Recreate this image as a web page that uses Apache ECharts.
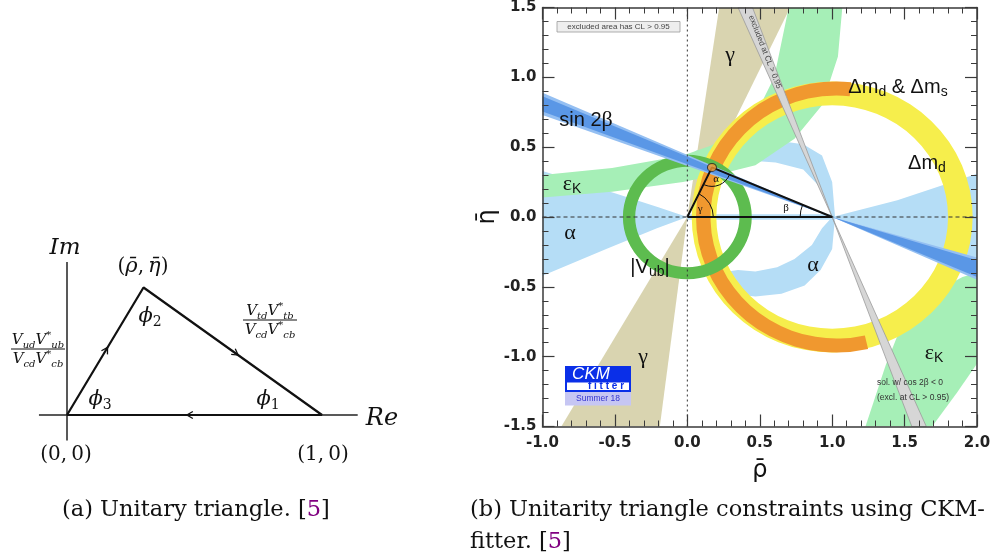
<!DOCTYPE html>
<html><head><meta charset="utf-8">
<script src="https://cdn.jsdelivr.net/npm/echarts@6/dist/echarts.min.js"></script>
<style>html,body{margin:0;padding:0;background:#fff}#c{width:994px;height:560px}</style>
</head><body><div id="c"></div>
<script>
// ---------------- data ----------------
const rhoRange = [-1.0, 2.0];
const etaRange = [-1.5, 1.5];
const tickStep = 0.5;

// (a) sketch of the unitary triangle
const diagVertices = [[0, 0], [0.3, 0.5], [1, 0]];
const reAxisSpan = [[-0.11, 0], [1.14, 0]];
const imAxisSpan = [[0, -0.1], [0, 0.6]];

// (b) CKMfitter constraints in the (rho-bar, eta-bar) plane
const ckmTriangle = [[0, 0], [0.17, 0.355], [1, 0]];
const apexFit = [[0.17, 0.355]];
const alphaLeft = [[-1, 0.33], [-0.5, 0.17], [-0.2, 0.07], [0, 0.0], [-0.21, -0.08], [-0.56, -0.23], [-1, -0.42]];
const alphaStrip = [[0, 0.02], [1, 0.02], [1, -0.02], [0, -0.02]];
const alphaRight = [[1, 0], [1.45, 0.12], [2, 0.31], [2, -0.30], [1.5, -0.15]];
const alphaUpperArc = [[1.02, 0], [1.0, 0.25], [0.93, 0.44], [0.80, 0.52], [0.6, 0.55], [0.4, 0.56], [0.2, 0.53], [0.05, 0.47], [0.15, 0.41], [0.35, 0.41], [0.61, 0.39], [0.80, 0.34], [0.92, 0.21], [1.0, 0]];
const alphaLowerArc = [[1.02, 0], [1.0, -0.23], [0.92, -0.38], [0.81, -0.49], [0.65, -0.55], [0.47, -0.57], [0.30, -0.55], [0.18, -0.5], [0.22, -0.40], [0.35, -0.38], [0.47, -0.39], [0.62, -0.36], [0.74, -0.30], [0.86, -0.20], [0.93, -0.08], [1.0, 0]];
const gammaUpper = [[0, 0], [0.22, 1.5], [0.71, 1.5]];
const gammaLower = [[0, 0], [-0.19, -1.5], [-0.87, -1.5]];
const epsKUpper = [[-1, 0.30], [-0.52, 0.35], [-0.03, 0.44], [0.16, 0.51], [0.33, 0.60], [0.48, 0.75], [0.60, 1.0], [0.70, 1.5], [1.07, 1.5], [1.04, 1.15], [0.93, 0.80], [0.74, 0.56], [0.47, 0.37], [0.2, 0.30], [-0.03, 0.25], [-0.52, 0.18], [-1, 0.14]];
const epsKLower = [[1.23, -1.5], [1.37, -1.06], [1.47, -0.80], [1.72, -0.53], [1.90, -0.43], [2.0, -0.40], [2.0, -1.05], [1.86, -1.26], [1.69, -1.5]];
// rings: centre rho, centre eta, inner radius, outer radius, start angle, end angle (deg)
const dmdRing = [[1.0, 0.0, 0.80, 0.97, 0, 360]];
const dmsArc = [[1.03, 0.0, 0.87, 0.97, 84, 283]];
const vubRing = [[0.0, 0.0, 0.36, 0.445, 0, 360]];
const sin2bHalo = [[[1, 0], [-1, 0.89], [-1, 0.73]], [[1, 0], [2, -0.29], [2, -0.45]]];
const sin2bCore = [[[1, 0], [-1, 0.865], [-1, 0.755]], [[1, 0], [2, -0.31], [2, -0.43]]];
const cos2bNeg = [[[1, 0], [0.35, 1.5], [0.45, 1.5]], [[1, 0], [1.55, -1.5], [1.65, -1.5]]];

// ---------------- helpers ----------------
const CK = { xAxisIndex: 1, yAxisIndex: 1 };
function polySeries(polys, style, z) {
  return Object.assign({
    type: 'custom', z, silent: true, clip: true, animation: false,
    data: polys.map(p => p[0]),
    renderItem: (params, api) => ({
      type: 'polygon',
      shape: { points: polys[params.dataIndex].map(pt => api.coord(pt)) },
      style: Object.assign({}, style)
    })
  }, CK);
}
function ringSeries(list, fill, z) {
  return Object.assign({
    type: 'custom', z, silent: true, clip: true, animation: false,
    data: list.map(r => [r[0], r[1]]),
    renderItem: (params, api) => {
      const r = list[params.dataIndex];
      const c = api.coord([r[0], r[1]]);
      const u = api.size([1, 1]);
      return {
        type: 'sector', x: c[0], y: c[1], scaleY: u[1] / u[0],
        shape: { cx: 0, cy: 0, r0: r[2] * u[0], r: r[3] * u[0],
          startAngle: -r[4] * Math.PI / 180, endAngle: -r[5] * Math.PI / 180, clockwise: false },
        style: { fill }
      };
    }
  }, CK);
}
const angleCfg = [{ t: 'γ', r: 26, lr: 15 }, { t: 'α', r: 19, lr: 12 }, { t: 'β', r: 32, lr: 47 }];

function T(x, y, text, style, extra) {
  return Object.assign({ type: 'text', x, y, silent: true, z: 100,
    style: Object.assign({ text, align: 'center', verticalAlign: 'middle', fill: '#111' }, style) }, extra || {});
}
const SERIF = '"DejaVu Serif"';
const mathRich = {
  u: { fontFamily: SERIF, fontSize: 20, lineHeight: 24, verticalAlign: 'middle' },
  i: { fontFamily: SERIF, fontStyle: 'italic', fontSize: 21, lineHeight: 24, verticalAlign: 'middle' },
  s: { fontFamily: SERIF, fontSize: 14, lineHeight: 15, verticalAlign: 'bottom' }
};
const fracRich = {
  v: { fontFamily: SERIF, fontStyle: 'italic', fontSize: 15, lineHeight: 20, verticalAlign: 'middle' },
  s: { fontFamily: SERIF, fontStyle: 'italic', fontSize: 10, lineHeight: 11, verticalAlign: 'bottom' },
  p: { fontFamily: SERIF, fontSize: 10, lineHeight: 11, verticalAlign: 'top' }
};
const sansRich = {
  n: { fontFamily: 'Liberation Sans', fontSize: 20, lineHeight: 24, verticalAlign: 'middle' },
  g: { fontFamily: 'Liberation Serif', fontSize: 22, lineHeight: 24, verticalAlign: 'middle' },
  s: { fontFamily: 'Liberation Sans', fontSize: 14, lineHeight: 14, verticalAlign: 'bottom' }
};
const capRich = {
  t: { fontFamily: SERIF, fontSize: 22.5, lineHeight: 28 },
  p: { fontFamily: SERIF, fontSize: 22.5, lineHeight: 28, fill: '#800080' }
};
function frac(cx, cy, num, den, half) {
  return [
    T(cx, cy - 9, num, { rich: fracRich }),
    { type: 'line', silent: true, z: 100, shape: { x1: cx - half, y1: cy, x2: cx + half, y2: cy }, style: { stroke: '#111', lineWidth: 1 } },
    T(cx, cy + 10, den, { rich: fracRich })
  ];
}

function ckmAxis(pos, showLabel, isX) {
  return {
    gridIndex: 1, type: 'value', position: pos, z: 20,
    min: isX ? rhoRange[0] : etaRange[0], max: isX ? rhoRange[1] : etaRange[1], interval: tickStep,
    axisLine: { show: true, onZero: false, lineStyle: { color: '#3a3a3a', width: 1.5 } },
    axisTick: { show: true, inside: true, length: 12, lineStyle: { color: '#3a3a3a', width: 1.2 } },
    minorTick: { show: true, splitNumber: 5, length: 6, lineStyle: { color: '#3a3a3a', width: 1 } },
    splitLine: { show: false }, minorSplitLine: { show: false },
    axisLabel: { show: showLabel, formatter: v => v.toFixed(1), fontFamily: 'DejaVu Sans', fontWeight: 'bold', fontSize: 15, color: '#222', margin: isX ? 9 : 6 }
  };
}

const xb = ckmAxis('bottom', true, true);
xb.name = 'ρ̄'; xb.nameLocation = 'middle'; xb.nameGap = 32;
xb.nameTextStyle = { fontFamily: 'DejaVu Sans', fontSize: 24, color: '#111' };
const yl = ckmAxis('left', true, false);
yl.name = 'η̄'; yl.nameLocation = 'middle'; yl.nameGap = 42; yl.nameRotate = 90;
yl.nameTextStyle = { fontFamily: 'DejaVu Sans', fontSize: 24, color: '#111' };

const option = {
  backgroundColor: '#ffffff',
  animation: false,
  grid: [
    { left: 16, top: 211, width: 357, height: 255 },
    { left: 542.5, top: 7, width: 434.5, height: 419.5 }
  ],
  xAxis: [
    { gridIndex: 0, type: 'value', min: -0.2, max: 1.2, show: false },
    xb,
    ckmAxis('top', false, true)
  ],
  yAxis: [
    { gridIndex: 0, type: 'value', min: -0.2, max: 0.8, show: false },
    yl,
    ckmAxis('right', false, false)
  ],
  series: [
    // ---- (a) sketch ----
    { type: 'line', xAxisIndex: 0, yAxisIndex: 0, data: reAxisSpan, symbol: 'none', silent: true, lineStyle: { color: '#222', width: 1.5 } },
    { type: 'line', xAxisIndex: 0, yAxisIndex: 0, data: imAxisSpan, symbol: 'none', silent: true, lineStyle: { color: '#222', width: 1.5 } },
    { type: 'line', xAxisIndex: 0, yAxisIndex: 0, data: diagVertices.concat([diagVertices[0]]), symbol: 'none', silent: true, lineStyle: { color: '#111', width: 2.2 }, z: 4 },
    {
      type: 'custom', xAxisIndex: 0, yAxisIndex: 0, z: 5, silent: true, animation: false,
      data: diagVertices,
      renderItem: (params, api) => {
        const i = params.dataIndex;
        const P = api.coord(diagVertices[i]), Q = api.coord(diagVertices[(i + 1) % 3]);
        const t = 0.53;
        const M = [P[0] + (Q[0] - P[0]) * t, P[1] + (Q[1] - P[1]) * t];
        const L = Math.hypot(Q[0] - P[0], Q[1] - P[1]);
        const u = [(Q[0] - P[0]) / L, (Q[1] - P[1]) / L], n = [-u[1], u[0]];
        const a = 6, w = 3.5;
        return { type: 'polyline', shape: { points: [[M[0] - a * u[0] + w * n[0], M[1] - a * u[1] + w * n[1]], M, [M[0] - a * u[0] - w * n[0], M[1] - a * u[1] - w * n[1]]] },
          style: { stroke: '#111', lineWidth: 1.3, fill: null } };
      }
    },
    // ---- (b) CKM constraints ----
    polySeries([alphaLeft, alphaStrip, alphaRight, alphaUpperArc, alphaLowerArc], { fill: '#b5ddf6' }, 2),
    polySeries([gammaUpper, gammaLower], { fill: '#d9d4b0' }, 3),
    polySeries([epsKUpper, epsKLower], { fill: '#a6efb7' }, 4),
    ringSeries(dmdRing, '#f6ee4c', 5),
    ringSeries(dmsArc, '#f0982f', 6),
    ringSeries(vubRing, '#5dbc4f', 7),
    polySeries(sin2bHalo, { fill: '#94bff2' }, 8),
    polySeries(sin2bCore, { fill: '#5a97e6' }, 9),
    polySeries(cos2bNeg, { fill: '#d6d6d6', stroke: '#9a9a9a', lineWidth: 0.8 }, 10),
    Object.assign({ type: 'line', data: [[0, etaRange[0]], [0, etaRange[1]]], symbol: 'none', silent: true, z: 11, lineStyle: { color: '#333', width: 1, type: [2, 3] } }, CK),
    Object.assign({ type: 'line', data: [[rhoRange[0], 0], [rhoRange[1], 0]], symbol: 'none', silent: true, z: 11, lineStyle: { color: '#333', width: 1, type: [4, 3] } }, CK),
    Object.assign({ type: 'line', data: ckmTriangle.concat([ckmTriangle[0]]), symbol: 'none', silent: true, z: 12, lineStyle: { color: '#111', width: 2 } }, CK),
    Object.assign({
      type: 'custom', z: 12, silent: true, animation: false, data: ckmTriangle,
      renderItem: (params, api) => {
        const i = params.dataIndex;
        const P = api.coord(ckmTriangle[i]), A = api.coord(ckmTriangle[(i + 1) % 3]), B = api.coord(ckmTriangle[(i + 2) % 3]);
        const a1 = Math.atan2(A[1] - P[1], A[0] - P[0]), a2 = Math.atan2(B[1] - P[1], B[0] - P[0]);
        let d = a2 - a1; while (d > Math.PI) d -= 2 * Math.PI; while (d < -Math.PI) d += 2 * Math.PI;
        const s = d > 0 ? a1 : a1 + d, e = d > 0 ? a1 + d : a1, b = s + Math.abs(d) / 2;
        const cfg = angleCfg[i];
        return { type: 'group', children: [
          { type: 'arc', shape: { cx: P[0], cy: P[1], r: cfg.r, startAngle: s, endAngle: e, clockwise: true }, style: { stroke: '#111', lineWidth: 1, fill: null } },
          { type: 'text', x: P[0] + Math.cos(b) * cfg.lr, y: P[1] + Math.sin(b) * cfg.lr, style: { text: cfg.t, fill: '#111', font: '11px "Liberation Serif"', align: 'center', verticalAlign: 'middle' } }
        ] };
      }
    }, CK),
    Object.assign({ type: 'scatter', data: apexFit, symbol: 'circle', symbolSize: [9, 8], silent: true, z: 13, itemStyle: { color: '#f39a2d', borderColor: '#222', borderWidth: 1 } }, CK)
  ],
  graphic: [].concat(
    [
      // (a) labels
      T(65, 248, 'Im', { fontFamily: SERIF, fontStyle: 'italic', fontSize: 23 }),
      T(382, 419, 'Re', { fontFamily: SERIF, fontStyle: 'italic', fontSize: 24 }),
      T(143, 267, '{u|(}{i|ρ\u0304}{u|,\u2009}{i|η\u0304}{u|)}', { rich: mathRich }),
      T(150, 317, '{i|ϕ}{s|2}', { rich: mathRich }),
      T(100, 400, '{i|ϕ}{s|3}', { rich: mathRich }),
      T(268, 400, '{i|ϕ}{s|1}', { rich: mathRich }),
      T(66, 455, '(0,\u20090)', { fontFamily: SERIF, fontSize: 20 }),
      T(323, 455, '(1,\u20090)', { fontFamily: SERIF, fontSize: 20 })
    ],
    frac(38, 349, '{v|V}{s|ud}{v|V}{p|*}{s|ub}', '{v|V}{s|cd}{v|V}{p|*}{s|cb}', 27),
    frac(270, 320, '{v|V}{s|td}{v|V}{p|*}{s|tb}', '{v|V}{s|cd}{v|V}{p|*}{s|cb}', 27),
    [
      // (b) labels
      { type: 'rect', silent: true, z: 100, shape: { x: 557, y: 21.5, width: 123, height: 10.5 }, style: { fill: '#eeeeee', stroke: '#9a9a9a', lineWidth: 0.8 } },
      T(618.5, 27, 'excluded area has CL > 0.95', { fontFamily: 'Liberation Sans', fontSize: 8, fill: '#444' }),
      T(765, 52, 'excluded at CL > 0.95', { fontFamily: 'Liberation Sans', fontSize: 8, fill: '#444' }, { rotation: -68.7 * Math.PI / 180 }),
      T(730, 55, '{g|γ}', { rich: sansRich }),
      T(898, 87, '{n|Δm}{s|d}{n| & Δm}{s|s}', { rich: sansRich }),
      T(927, 163, '{n|Δm}{s|d}', { rich: sansRich }),
      T(586, 120, '{n|sin 2}{g|β}', { rich: sansRich }),
      T(572, 184, '{g|ε}{s|K}', { rich: sansRich }),
      T(570, 233, '{g|α}', { rich: sansRich }),
      T(650, 267, '{n||V}{s|ub}{n||}', { rich: sansRich }),
      T(643, 357, '{g|γ}', { rich: sansRich }),
      T(813, 265, '{g|α}', { rich: sansRich }),
      T(934, 353, '{g|ε}{s|K}', { rich: sansRich }),
      T(877, 383, 'sol. w/ cos 2β < 0', { fontFamily: 'Liberation Sans', fontSize: 8.5, fill: '#333', align: 'left' }),
      T(877, 398, '(excl. at CL > 0.95)', { fontFamily: 'Liberation Sans', fontSize: 8.5, fill: '#333', align: 'left' }),
      // CKMfitter logo
      { type: 'rect', silent: true, z: 100, shape: { x: 565, y: 366, width: 66, height: 26 }, style: { fill: '#0a2fe8' } },
      T(591, 374.5, 'CKM', { fontFamily: 'Liberation Sans', fontStyle: 'italic', fontSize: 17, fill: '#ffffff' }),
      { type: 'rect', silent: true, z: 101, shape: { x: 567, y: 382.5, width: 62, height: 7.5 }, style: { fill: '#ffffff' } },
      T(606, 386.5, 'f i t t e r', { fontFamily: 'Liberation Sans', fontWeight: 'bold', fontSize: 10, fill: '#0a2fe8' }, { z: 102 }),
      { type: 'rect', silent: true, z: 100, shape: { x: 565, y: 392, width: 66, height: 13.5 }, style: { fill: '#c6c6f3' } },
      T(598, 399, 'Summer 18', { fontFamily: 'Liberation Sans', fontSize: 8.5, fill: '#3434cf' }),
      // captions
      T(62, 510, '{t|(a) Unitary triangle. [}{p|5}{t|]}', { rich: capRich, align: 'left' }),
      T(470, 510, '{t|(b) Unitarity triangle constraints using CKM-}', { rich: capRich, align: 'left' }),
      T(470, 542, '{t|fitter. [}{p|5}{t|]}', { rich: capRich, align: 'left' })
    ]
  )
};

const chart = echarts.init(document.getElementById('c'), null, { renderer: 'canvas' });
chart.setOption(option);
</script></body></html>
